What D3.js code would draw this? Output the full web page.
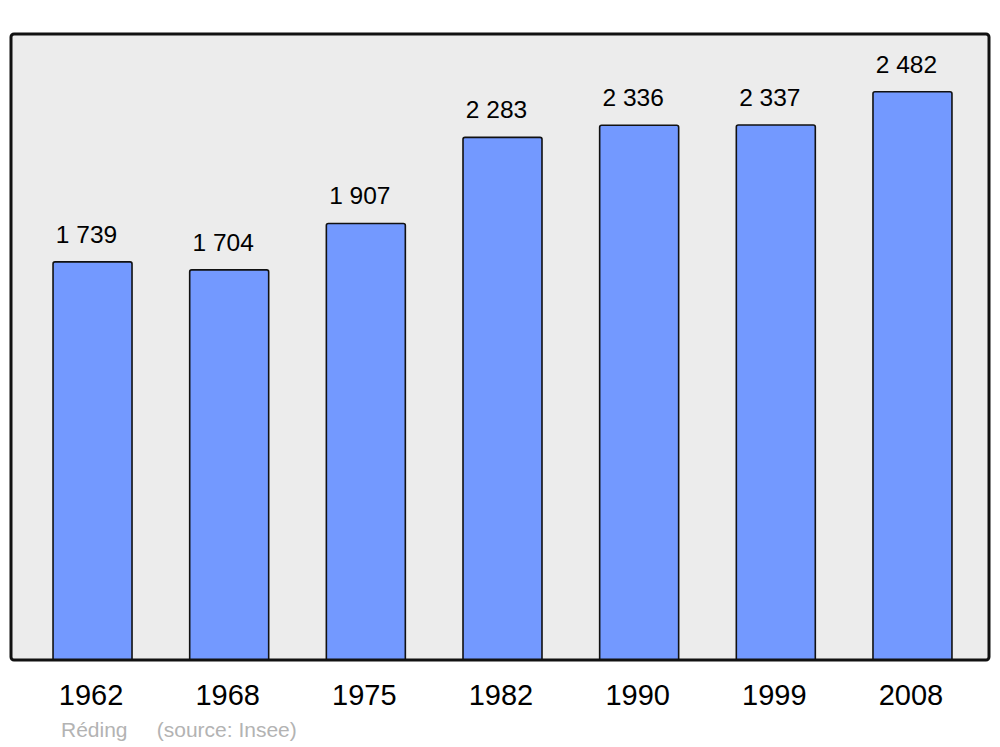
<!DOCTYPE html>
<html>
<head>
<meta charset="utf-8">
<script src="https://cdn.jsdelivr.net/npm/d3@7"></script>
<style>
body { margin: 0; background: #fff; }
svg { display: block; font-family: "Liberation Sans", Arial, sans-serif; }
</style>
</head>
<body>
<svg id="chart" width="1000" height="747"></svg>
<script>
var years = ["1962", "1968", "1975", "1982", "1990", "1999", "2008"];
var population = [1739, 1704, 1907, 2283, 2336, 2337, 2482];
var labels = ["1 739", "1 704", "1 907", "2 283", "2 336", "2 337", "2 482"];

var svg = d3.select("#chart");

var panelLeft = 11, panelRight = 989, panelTop = 34, panelBottom = 660;

// panel background
svg.append("rect")
    .attr("x", panelLeft)
    .attr("y", panelTop)
    .attr("width", panelRight - panelLeft)
    .attr("height", panelBottom - panelTop)
    .attr("rx", 3)
    .attr("fill", "#ececec")
    .attr("stroke", "none");

var x = d3.scaleBand()
    .domain(years)
    .range([24.2, 980.8])
    .paddingInner(0.422)
    .paddingOuter(0.211);

var y = d3.scaleLinear()
    .domain([0, 2482 * 1.1])
    .range([panelBottom, panelTop + 1]);

svg.selectAll(".bar").data(population).enter().append("path")
    .attr("class", "bar")
    .attr("d", function(d, i) {
        var x0 = x(years[i]), x1 = x0 + x.bandwidth();
        var y0 = y(d), r = 2;
        return "M" + x0 + "," + panelBottom +
            "V" + (y0 + r) + "Q" + x0 + "," + y0 + " " + (x0 + r) + "," + y0 +
            "H" + (x1 - r) + "Q" + x1 + "," + y0 + " " + x1 + "," + (y0 + r) +
            "V" + panelBottom;
    })
    .attr("fill", "#7399ff")
    .attr("stroke", "#111")
    .attr("stroke-width", 1.6);

// value labels
svg.selectAll(".val").data(labels).enter().append("text")
    .attr("class", "val")
    .attr("x", function(d, i) { return x(years[i]) + x.bandwidth() / 2 - 6; })
    .attr("y", function(d, i) { return y(population[i]) - 19; })
    .attr("text-anchor", "middle")
    .attr("font-size", 24.5)
    .attr("fill", "#000")
    .text(function(d) { return d; });

// year labels
svg.selectAll(".year").data(years).enter().append("text")
    .attr("class", "year")
    .attr("x", function(d) { return x(d) + x.bandwidth() / 2 - 1.5; })
    .attr("y", 705)
    .attr("text-anchor", "middle")
    .attr("font-size", 29)
    .attr("fill", "#000")
    .text(function(d) { return d; });

// frame
svg.append("rect")
    .attr("x", panelLeft)
    .attr("y", panelTop)
    .attr("width", panelRight - panelLeft)
    .attr("height", panelBottom - panelTop)
    .attr("rx", 3)
    .attr("fill", "none")
    .attr("stroke", "#111")
    .attr("stroke-width", 3);

svg.append("text")
    .attr("x", 61)
    .attr("y", 737)
    .attr("font-size", 21)
    .attr("fill", "#b3b3b3")
    .attr("xml:space", "preserve")
    .text("Réding     (source: Insee)");
</script>
</body>
</html>
